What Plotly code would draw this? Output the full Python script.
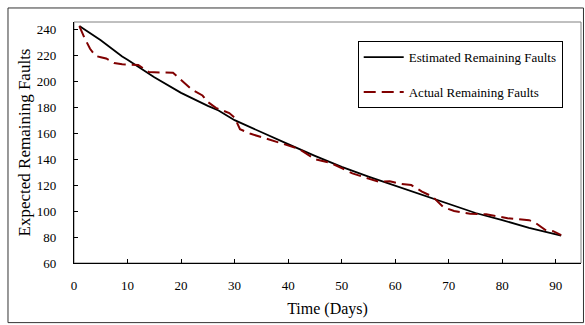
import plotly.graph_objects as go

# Data
est_days = [1, 3, 5, 9, 10, 15, 18, 20, 25, 27, 30, 35, 40, 45, 50, 55, 60, 65, 70, 75, 80, 85, 91]
est_faults = [242.5, 237, 231.5, 219, 216.5, 203, 195.5, 191, 181, 177.5, 170, 160.5, 151.5, 142.5,
              134, 126.5, 119.5, 112, 105, 98.5, 93, 87, 81]

act_days = [1, 2, 3, 4, 5, 6, 7.5, 9, 12, 14, 18.5, 20, 22, 24, 25, 26.5, 29, 30, 31, 33, 35, 38, 40,
            42, 45, 48, 51, 52, 55, 57, 59, 61, 63, 65, 67, 69, 71, 74, 77, 81, 85, 86, 88, 89.5, 91]
act_faults = [242.5, 233, 225, 219.5, 218.5, 217.5, 214, 213, 212.5, 207, 206.5, 201, 193.5, 189, 184,
              179.5, 175.5, 172, 163, 159.5, 157, 153.5, 151, 148, 140, 137, 131, 129, 125, 122.5, 123,
              121, 120, 115, 111, 103, 100, 98, 97.5, 94.5, 93, 91.5, 85.5, 84.5, 81.5]

x_ticks = [0, 10, 20, 30, 40, 50, 60, 70, 80, 90]
y_ticks = [60, 80, 100, 120, 140, 160, 180, 200, 220, 240]

FONT = "Liberation Serif"

fig = go.Figure()
fig.add_trace(go.Scatter(
    x=est_days, y=est_faults, mode="lines", name="Estimated Remaining Faults",
    line=dict(color="black", width=1.8), legendgroup="a"))
fig.add_trace(go.Scatter(
    x=act_days, y=act_faults, mode="lines", name="Actual Remaining Faults",
    line=dict(color="#800000", width=2, dash="12px,6px"), legendgroup="b"))

fig.update_layout(
    width=585, height=325,
    margin=dict(l=74, r=4, t=22, b=62),
    paper_bgcolor="white", plot_bgcolor="white",
    font=dict(family=FONT, size=13, color="black"),
    showlegend=True,
    legend=dict(
        x=0.5596, y=0.9208, xanchor="left", yanchor="top",
        bgcolor="white", bordercolor="black", borderwidth=1,
        font=dict(family=FONT, size=13, color="black"),
        itemwidth=40, traceorder="grouped", tracegroupgap=15,
    ),
    xaxis=dict(
        range=[0, 94.7], tickvals=x_ticks, ticks="inside", ticklen=4, tickcolor="black",
        showline=True, linecolor="black", linewidth=1.3, showgrid=False, zeroline=False,
        tickfont=dict(family=FONT, size=13, color="black"), ticklabelstandoff=10,
        title=dict(text="Time (Days)", font=dict(family=FONT, size=16, color="black"), standoff=11),
    ),
    yaxis=dict(
        range=[60, 245.6], tickvals=y_ticks, ticks="inside", ticklen=4, tickcolor="black",
        showline=True, linecolor="black", linewidth=1.3, showgrid=False, zeroline=False,
        tickfont=dict(family=FONT, size=13, color="black"), ticklabelstandoff=14,
        title=dict(text="Expected Remaining Faults", font=dict(family=FONT, size=17, color="black"), standoff=1),
    ),
    shapes=[
        dict(type="rect", xref="paper", yref="paper", x0=0, x1=1, y0=0, y1=1,
             line=dict(color="#808080", width=1), layer="below"),
        dict(type="rect", xref="paper", yref="paper", x0=-0.1302, x1=1.0049, y0=-0.2474, y1=1.0582,
             line=dict(color="#333333", width=1), layer="below"),
    ],
)

fig.write_html("out.html", config={"displayModeBar": False},
               post_script="document.body.style.margin='0';")
